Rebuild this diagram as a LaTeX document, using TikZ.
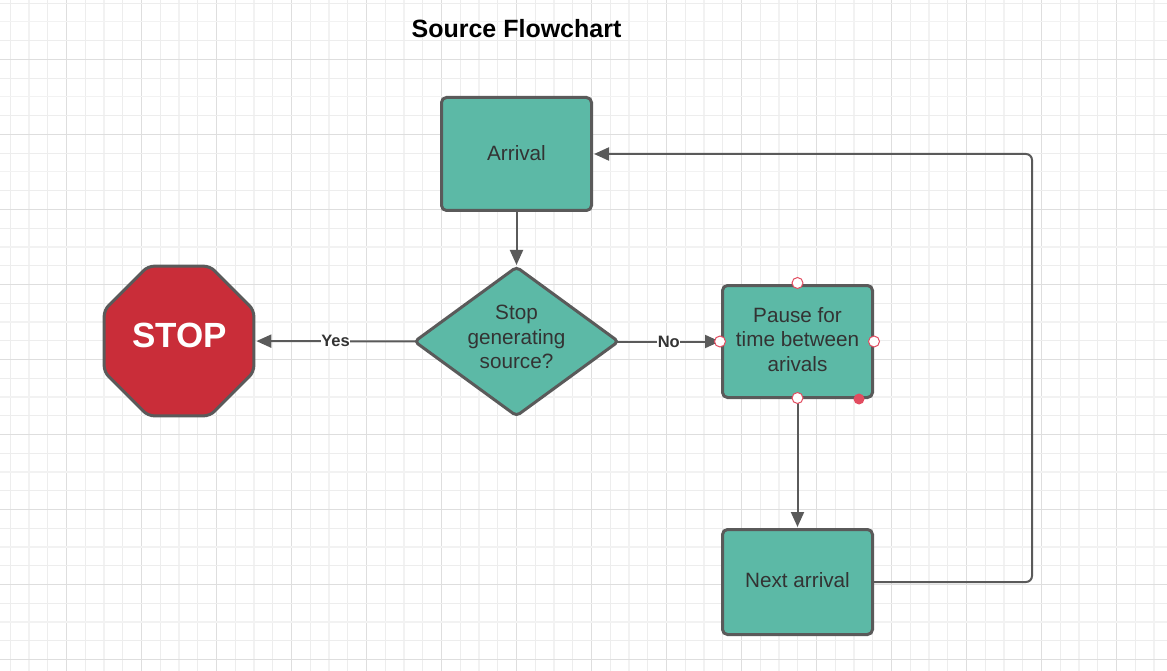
\documentclass[tikz,border=0pt]{standalone}
\usepackage{fontspec}
\setmainfont{Liberation Sans}
\usetikzlibrary{arrows.meta,shapes.geometric}
\definecolor{boxteal}{RGB}{92,185,166}
\definecolor{stopred}{RGB}{201,45,57}
\definecolor{edgegray}{RGB}{90,90,90}
\definecolor{textgray}{RGB}{51,51,51}
\definecolor{handlered}{RGB}{226,76,96}
\tikzset{
  gridminor/.style={draw=black!7,line width=0.7pt},
  gridthick/.style={draw=black!5,line width=1.5pt},
  gridheavy/.style={draw=black!13,line width=0.8pt},
  flowbox/.style={draw=edgegray,fill=boxteal,line width=3pt,rounded corners=5pt,
    minimum width=150pt,text=textgray,font=\fontsize{20.7}{24.5}\selectfont,align=center,inner sep=0pt},
  flowdecision/.style={flowbox,diamond,aspect=1.364,minimum width=205pt,minimum height=150pt,rounded corners=4pt},
  stopsign/.style={draw=edgegray,fill=stopred,line width=3pt,regular polygon,regular polygon sides=8,
    minimum size=162pt,rounded corners=6pt,inner sep=0pt,text=white,font=\bfseries\fontsize{35}{40}\selectfont},
  flowedge/.style={-{Triangle[length=15pt,width=13pt]},edgegray,line width=2pt,shorten >=1pt},
  edgelabel/.style={fill=white,inner sep=0.5pt,text=textgray,font=\bfseries\fontsize{16.5}{18}\selectfont},
  handle/.style={circle,draw=handlered,fill=white,line width=1pt,minimum size=11pt,inner sep=0pt},
  handledot/.style={circle,fill=handlered,minimum size=11pt,inner sep=0pt},
}
\begin{document}
\begin{tikzpicture}[x=1pt,y=-1pt]
\useasboundingbox (0,0) rectangle (1167,671);
\def\gridsep{18.75}

    % background grid
    \foreach \i in {0,2,...,62}
        \draw[gridminor] (10+\gridsep*\i,0) -- (10+\gridsep*\i,671);
    \foreach \i in {1,5,...,61}
        \draw[gridthick] (10+\gridsep*\i,0) -- (10+\gridsep*\i,671);
    \foreach \i in {3,7,...,59}
        \draw[gridheavy] (10+\gridsep*\i,0) -- (10+\gridsep*\i,671);
    \foreach \j in {0,2,...,34}
        \draw[gridminor] (0,3+\gridsep*\j) -- (1167,3+\gridsep*\j);
    \foreach \j in {1,5,...,33}
        \draw[gridthick] (0,3+\gridsep*\j) -- (1167,3+\gridsep*\j);
    \foreach \j in {3,7,...,35}
        \draw[gridheavy] (0,3+\gridsep*\j) -- (1167,3+\gridsep*\j);

    \node[font=\bfseries\fontsize{25}{30}\selectfont] (title) at (516.5,28.5) {Source Flowchart};

    \node[flowbox,minimum height=113pt] (arrival) at (516.5,154) {\raisebox{2pt}{Arrival}};
    \node[flowdecision] (decision) at (516.5,341.5) {\raisebox{9pt}{Stop}\\\raisebox{9pt}{generating}\\\raisebox{9pt}{source?}};
    \node[stopsign] (stop) at (179,341) {\raisebox{11pt}{\hspace{1pt}STOP}};
    \node[flowbox,minimum height=112pt] (pause) at (797.5,341.5) {\raisebox{4pt}{Pause for}\\\raisebox{4pt}{time between}\\\raisebox{4pt}{arivals}};
    \node[flowbox,minimum height=105pt] (next) at (797.5,582) {\raisebox{5pt}{Next arrival}};
    \coordinate (cornerlow) at (1032,582);
    \coordinate (cornerhigh) at (1032,154);

    \draw[flowedge,shorten >=0pt] (arrival) -- (decision);
    \draw[flowedge,shorten <=-4pt] (decision) -- node[edgelabel,pos=0.49]{Yes} (stop);
    \draw[flowedge,shorten <=-4pt] (decision) -- node[edgelabel,pos=0.48]{No} (pause);
    \draw[flowedge] (pause) -- (next);
    \draw[flowedge,rounded corners=6pt] (next) -- (cornerlow) -- (cornerhigh) -- (arrival);

    % selection handles
    \node[handle,yshift=1pt] (handle-n) at (pause.north) {};
    \node[handle,xshift=-1pt] (handle-w) at (pause.west) {};
    \node[handle] (handle-e) at (pause.east) {};
    \node[handle,yshift=1pt] (handle-s) at (pause.south) {};
    \node[handledot] (handle-c) at (859,399) {};

\end{tikzpicture}
\end{document}
